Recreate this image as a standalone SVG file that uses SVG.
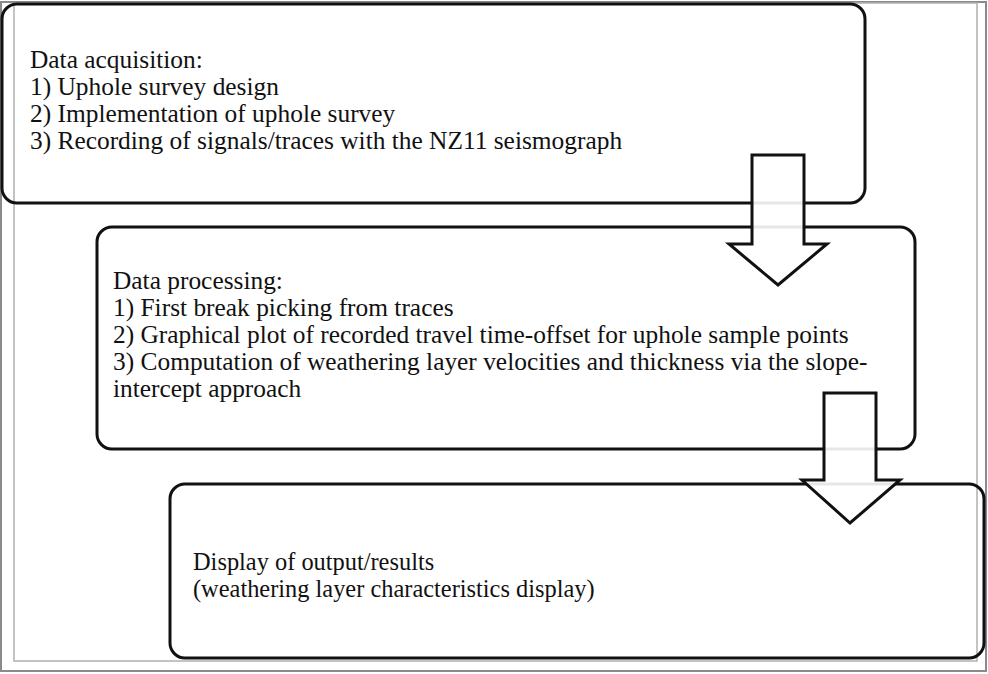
<svg xmlns="http://www.w3.org/2000/svg" width="988" height="674" viewBox="0 0 988 674">
<style>
.frame{fill:none;stroke:#8a8a8a;stroke-width:2}
.frame2{fill:none;stroke:#b0b0b0;stroke-width:1.5}
.box{fill:none;stroke:#111;stroke-width:3}
.arrow{fill:#fff;fill-opacity:0.9;stroke:#111;stroke-width:3;stroke-linejoin:miter}
text{font-family:"Liberation Serif","Times New Roman",serif;font-size:25.4px;fill:#111}
.small{font-size:24.4px}
</style>
<rect width="988" height="674" fill="#fff"/>
<g id="frame">
<rect class="frame" x="1" y="2" width="985" height="669"/>
<rect class="frame2" x="14" y="3" width="963" height="658"/>
</g>
<g id="node-acquisition">
<rect class="box" x="2" y="4" width="863" height="199" rx="15"/>
<text x="30" y="68">Data acquisition:</text>
<text x="30" y="95">1) Uphole survey design</text>
<text x="30" y="122">2) Implementation of uphole survey</text>
<text x="30" y="149">3) Recording of signals/traces with the NZ11 seismograph</text>
</g>
<g id="node-processing">
<rect class="box" x="97" y="227" width="818" height="222" rx="15"/>
<text x="113" y="289">Data processing:</text>
<text x="113" y="316">1) First break picking from traces</text>
<text x="113" y="343">2) Graphical plot of recorded travel time-offset for uphole sample points</text>
<text x="113" y="370">3) Computation of weathering layer velocities and thickness via the slope-</text>
<text x="113" y="397">intercept approach</text>
</g>
<g id="node-display">
<rect class="box" x="170" y="484" width="814" height="174" rx="15"/>
<text class="small" x="193" y="570">Display of output/results</text>
<text class="small" x="193" y="597">(weathering layer characteristics display)</text>
</g>
<g id="connectors">
<polygon class="arrow" points="752,155 804,155 804,244 827,244 778,285 729,244 752,244"/>
<polygon class="arrow" points="824,393 876,393 876,480 900,480 850,523 802,480 824,480"/>
</g>
</svg>
